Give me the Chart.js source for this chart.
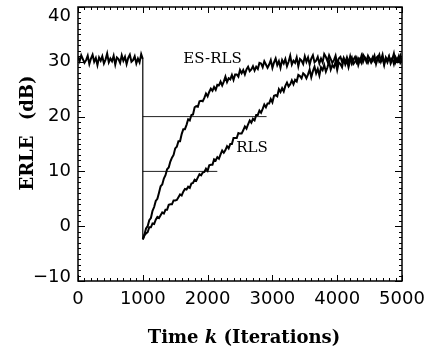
<!DOCTYPE html>
<html>
<head>
<meta charset="utf-8">
<script src="https://cdn.jsdelivr.net/npm/chart.js@4/dist/chart.umd.min.js"></script>
<style>
  html, body { margin: 0; padding: 0; background: #fff; }
  canvas { display: block; }
</style>
</head>
<body>
<canvas id="erle-chart" width="431" height="350"></canvas>
<script>
// ERLE convergence: ES-RLS vs RLS, echo path change at k = 1000

// iterations 0..1000 (both filters converged)
const preIterations = [
  0, 25, 50, 75, 100, 125, 150, 175, 200, 225, 250, 275, 300, 325, 350, 375, 400, 425, 450, 475,
  500, 525, 550, 575, 600, 625, 650, 675, 700, 725, 750, 775, 800, 825, 850, 875, 900, 925, 950, 975,
  1000
];
const preErle = [
  30.9, 30.1, 31.2, 30.5, 29.8, 30.3, 31.1, 29.6, 30.6, 31.3, 30.0, 30.7, 29.4, 30.8, 30.2, 31.0, 29.7, 30.4, 31.5, 29.9,
  30.6, 30.1, 31.1, 29.5, 30.8, 30.5, 29.8, 31.2, 30.2, 30.9, 29.6, 30.7, 31.3, 30.0, 30.3, 31.0, 29.7, 30.6, 29.9, 31.4,
  30.5
];

// drop at the echo path change
const dropIterations = [1000, 1000];
const dropErle = [30.5, -2.4];

// iterations 1000..5000 after the change
const postIterations = [
  1000, 1025, 1050, 1075, 1100, 1125, 1150, 1175,
  1200, 1225, 1250, 1275, 1300, 1325, 1350, 1375,
  1400, 1425, 1450, 1475, 1500, 1525, 1550, 1575,
  1600, 1625, 1650, 1675, 1700, 1725, 1750, 1775,
  1800, 1825, 1850, 1875, 1900, 1925, 1950, 1975,
  2000, 2025, 2050, 2075, 2100, 2125, 2150, 2175,
  2200, 2225, 2250, 2275, 2300, 2325, 2350, 2375,
  2400, 2425, 2450, 2475, 2500, 2525, 2550, 2575,
  2600, 2625, 2650, 2675, 2700, 2725, 2750, 2775,
  2800, 2825, 2850, 2875, 2900, 2925, 2950, 2975,
  3000, 3025, 3050, 3075, 3100, 3125, 3150, 3175,
  3200, 3225, 3250, 3275, 3300, 3325, 3350, 3375,
  3400, 3425, 3450, 3475, 3500, 3525, 3550, 3575,
  3600, 3625, 3650, 3675, 3700, 3725, 3750, 3775,
  3800, 3825, 3850, 3875, 3900, 3925, 3950, 3975,
  4000, 4025, 4050, 4075, 4100, 4125, 4150, 4175,
  4200, 4225, 4250, 4275, 4300, 4325, 4350, 4375,
  4400, 4425, 4450, 4475, 4500, 4525, 4550, 4575,
  4600, 4625, 4650, 4675, 4700, 4725, 4750, 4775,
  4800, 4825, 4850, 4875, 4900, 4925, 4950, 4975,
  5000
];

const esRlsErle = [
  -2.4, -1.5, -0.4, 0.0, 1.1, 1.5, 2.8, 3.5,
  4.6, 5.0, 6.1, 7.3, 7.6, 8.7, 9.3, 10.4,
  10.7, 11.8, 12.5, 13.0, 14.2, 14.5, 15.5, 15.5,
  16.8, 17.7, 17.7, 18.5, 19.5, 19.3, 20.3, 20.4,
  21.7, 21.9, 21.8, 22.8, 22.9, 22.8, 23.4, 24.2,
  23.7, 24.5, 25.1, 24.7, 25.4, 24.9, 25.8, 25.7,
  26.4, 25.7, 26.4, 27.3, 26.3, 27.0, 26.8, 27.6,
  26.7, 27.7, 27.7, 27.3, 28.5, 27.9, 28.5, 27.7,
  28.6, 29.1, 28.3, 28.6, 29.2, 28.4, 29.1, 28.7,
  29.8, 29.7, 29.0, 30.1, 29.5, 28.9, 29.5, 30.3,
  28.9, 29.9, 30.6, 29.4, 30.1, 28.9, 30.3, 29.7,
  30.5, 29.2, 30.0, 31.1, 29.5, 30.2, 29.8, 30.8,
  29.2, 30.5, 30.2, 29.6, 31.0, 30.0, 30.8, 29.5,
  30.6, 31.2, 29.9, 30.2, 30.9, 29.7, 30.6, 29.9,
  31.4, 30.9, 30.1, 31.2, 30.5, 29.8, 30.3, 31.1,
  29.6, 30.6, 30.9, 30.0, 30.7, 29.9, 30.8, 29.8,
  31.0, 29.7, 30.4, 30.9, 29.9, 30.6, 30.1, 31.1,
  30.0, 30.8, 30.5, 29.8, 30.6, 30.2, 30.9, 30.1,
  30.7, 31.0, 30.0, 30.3, 31.3, 29.7, 30.6, 29.9,
  30.9, 30.2, 30.7, 29.6, 30.8, 30.1, 31.0, 29.8,
  30.3
];

const rlsErle = [
  -2.4, -1.7, -1.3, -1.1, -0.2, -0.2, 0.5, 0.4,
  1.2, 1.7, 1.5, 2.0, 2.5, 2.3, 3.0, 3.0,
  3.9, 4.0, 4.0, 4.7, 4.7, 4.8, 5.3, 5.8,
  5.6, 6.3, 6.8, 6.7, 7.2, 7.0, 7.8, 7.9,
  8.5, 8.3, 8.9, 9.5, 9.3, 9.8, 9.9, 10.5,
  10.1, 11.1, 11.2, 11.2, 12.2, 12.0, 12.6, 12.3,
  13.1, 13.8, 13.4, 13.9, 14.6, 14.2, 15.0, 15.0,
  16.1, 16.1, 16.1, 17.0, 16.9, 16.9, 17.5, 18.2,
  17.8, 18.6, 19.3, 18.9, 19.6, 19.3, 20.3, 20.3,
  21.1, 20.7, 21.4, 22.2, 21.7, 22.4, 22.4, 23.2,
  22.6, 23.8, 23.9, 23.7, 25.0, 24.5, 25.2, 24.6,
  25.6, 26.2, 25.5, 25.9, 26.6, 25.9, 26.7, 26.4,
  27.6, 27.4, 27.0, 27.9, 27.6, 27.0, 27.7, 28.6,
  27.2, 28.3, 29.1, 27.9, 28.7, 27.5, 29.0, 28.5,
  29.4, 28.2, 29.0, 30.1, 28.6, 29.4, 29.0, 30.0,
  28.5, 29.9, 29.6, 29.0, 30.5, 29.5, 30.3, 29.0,
  30.2, 30.8, 29.6, 30.0, 30.7, 29.4, 30.4, 29.8,
  31.3, 30.8, 30.0, 31.1, 30.5, 29.8, 30.3, 31.1,
  29.6, 30.6, 31.3, 30.0, 30.7, 29.4, 30.8, 30.2,
  31.0, 29.7, 30.4, 31.5, 29.9, 30.6, 30.1, 31.1,
  30.0
];

// horizontal 10 dB / 20 dB markers
const markerLevels = [10, 20];
const markerStart = [1000, 1000];
const markerEnd = [2150, 2910];

// axis ticks
const xTicks = [0, 1000, 2000, 3000, 4000, 5000];
const xTickLabels = ['0', '1000', '2000', '3000', '4000', '5000'];
const yTicks = [-10, 0, 10, 20, 30, 40];
const yTickLabels = ['\u221210', '0', '10', '20', '30', '40'];

const SANS = '"DejaVu Sans", sans-serif';
const SERIF = '"DejaVu Serif", serif';

function toPoints(xs, ys) {
  return xs.map((x, i) => ({ x: x, y: ys[i] }));
}

const datasets = [
  { label: 'before change', data: toPoints(preIterations, preErle) },
  { label: 'drop', data: toPoints(dropIterations, dropErle), borderWidth: 1.2 },
  { label: 'ES-RLS', data: toPoints(postIterations, esRlsErle) },
  { label: 'RLS', data: toPoints(postIterations, rlsErle) }
];
markerLevels.forEach((lvl, i) => {
  datasets.push({
    label: lvl + ' dB',
    data: [{ x: markerStart[i], y: lvl }, { x: markerEnd[i], y: lvl }],
    borderWidth: 1,
    borderColor: '#222'
  });
});

// frame, inward ticks, tick labels, titles, curve names
const axisDecor = {
  id: 'axisDecor',
  afterDraw(chart) {
    const { ctx, chartArea: a, scales: { x, y } } = chart;
    ctx.save();
    ctx.strokeStyle = '#000';
    ctx.fillStyle = '#000';

    function seg(x1, y1, x2, y2) {
      ctx.beginPath();
      ctx.moveTo(x1, y1);
      ctx.lineTo(x2, y2);
      ctx.stroke();
    }

    ctx.lineWidth = 1;
    for (let v = 0; v <= 5000; v += 100) {
      const px = Math.round(x.getPixelForValue(v)) + 0.5;
      const len = v % 1000 === 0 ? 6 : 3;
      seg(px, a.bottom, px, a.bottom - len);
      seg(px, a.top, px, a.top + len);
    }
    for (let v = -10; v <= 40; v++) {
      const py = Math.round(y.getPixelForValue(v)) + 0.5;
      const len = v % 10 === 0 ? 7 : 3;
      seg(a.left, py, a.left + len, py);
      seg(a.right, py, a.right - len, py);
    }

    ctx.lineWidth = 1.5;
    ctx.strokeRect(a.left, a.top, a.right - a.left, a.bottom - a.top);

    // tick labels
    ctx.font = '18px ' + SANS;
    ctx.textBaseline = 'middle';
    ctx.textAlign = 'center';
    xTicks.forEach((v, i) => {
      ctx.fillText(xTickLabels[i], x.getPixelForValue(v), a.bottom + 18);
    });
    ctx.textAlign = 'right';
    yTicks.forEach((v, i) => {
      let py = y.getPixelForValue(v);
      py = Math.min(Math.max(py, a.top + 9), a.bottom - 3.5);
      ctx.fillText(yTickLabels[i], a.left - 7, py);
    });

    // y title
    ctx.save();
    ctx.translate(33, 133);
    ctx.rotate(-Math.PI / 2);
    ctx.font = 'bold 18px ' + SERIF;
    ctx.textAlign = 'center';
    ctx.textBaseline = 'alphabetic';
    if ('wordSpacing' in ctx) ctx.wordSpacing = '9px';
    ctx.fillText('ERLE (dB)', 0, 0);
    ctx.restore();

    // x title with italic k
    const parts = [
      { t: 'Time ', f: 'bold 18px ' + SERIF },
      { t: 'k', f: 'italic bold 18px ' + SERIF },
      { t: ' (Iterations)', f: 'bold 18px ' + SERIF }
    ];
    let total = 0;
    parts.forEach(p => { ctx.font = p.f; p.w = ctx.measureText(p.t).width; total += p.w; });
    let tx = 244 - total / 2;
    ctx.textAlign = 'left';
    ctx.textBaseline = 'alphabetic';
    parts.forEach(p => { ctx.font = p.f; ctx.fillText(p.t, tx, 343); tx += p.w; });

    // curve names
    ctx.font = '15px ' + SERIF;
    ctx.textAlign = 'center';
    ctx.textBaseline = 'middle';
    ctx.fillText('ES-RLS', x.getPixelForValue(2076), y.getPixelForValue(30.5));
    ctx.fillText('RLS', x.getPixelForValue(2685), y.getPixelForValue(14.3));

    ctx.restore();
  }
};

new Chart(document.getElementById('erle-chart'), {
  type: 'line',
  data: { datasets: datasets },
  options: {
    responsive: false,
    animation: false,
    devicePixelRatio: 1,
    layout: { padding: { left: 78, top: 7, right: 29, bottom: 69 } },
    elements: {
      point: { radius: 0 },
      line: { borderColor: '#000', borderWidth: 2, tension: 0 }
    },
    scales: {
      x: { type: 'linear', min: 0, max: 5000, display: false },
      y: { type: 'linear', min: -10, max: 40, display: false }
    },
    plugins: {
      legend: { display: false },
      tooltip: { enabled: false }
    }
  },
  plugins: [axisDecor]
});
</script>
</body>
</html>
